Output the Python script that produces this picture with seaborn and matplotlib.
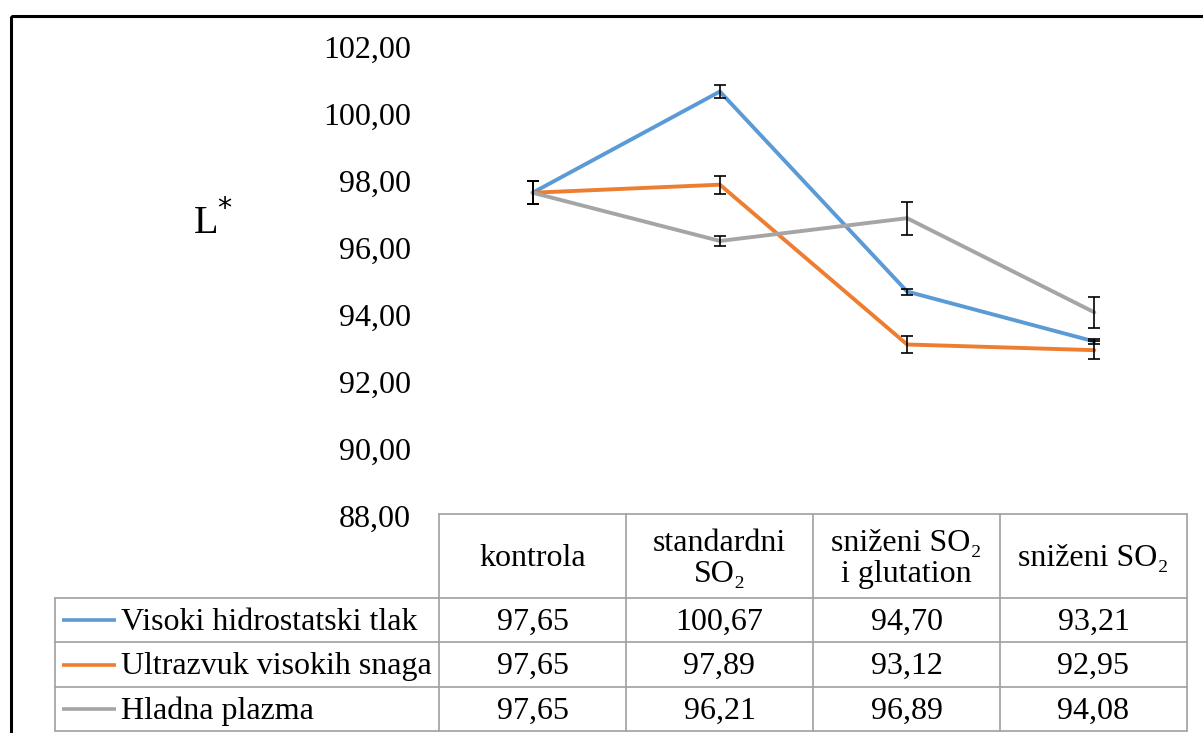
import matplotlib
matplotlib.use("Agg")
import matplotlib.pyplot as plt
from matplotlib.patches import Rectangle
import numpy as np
import pandas as pd
import seaborn as sns

# Treatments (x categories) and series
categories = ["kontrola", "standardni\nSO₂", "sniženi SO₂\ni glutation", "sniženi SO₂"]
series = ["Visoki hidrostatski tlak", "Ultrazvuk visokih snaga", "Hladna plazma"]
colors = ["#5B9BD5", "#ED7D31", "#A5A5A5"]

# L* means and standard deviations per series
vht_mean = [97.65, 100.67, 94.70, 93.21]
uvs_mean = [97.65, 97.89, 93.12, 92.95]
hp_mean = [97.65, 96.21, 96.89, 94.08]
vht_sd = [0.35, 0.20, 0.09, 0.08]
uvs_sd = [0.35, 0.27, 0.26, 0.26]
hp_sd = [0.35, 0.15, 0.49, 0.47]

y_ticks = [88, 90, 92, 94, 96, 98, 100, 102]

means = [vht_mean, uvs_mean, hp_mean]
sds = [vht_sd, uvs_sd, hp_sd]

df = pd.DataFrame({
    "x": np.tile(np.arange(len(categories)), len(series)),
    "L": np.concatenate(means),
    "serija": np.repeat(series, len(categories)),
})

sns.set_theme(style="white")
plt.rcParams["font.family"] = ["Liberation Serif", "DejaVu Serif"]
plt.rcParams["text.color"] = "black"
plt.rcParams["ytick.color"] = "black"
plt.rcParams["ytick.labelcolor"] = "black"

FS = 23
W, H = 1203, 733
fig = plt.figure(figsize=(W / 100, H / 100), dpi=100)

# full-figure pixel overlay for the frame and the data table
ov = fig.add_axes([0, 0, 1, 1], zorder=0)
ov.set_xlim(0, W)
ov.set_ylim(H, 0)
ov.axis("off")

# main plot area
ax = fig.add_axes([439 / W, 1 - 516 / H, 749 / W, (516 - 47) / H], zorder=2)
ax.patch.set_alpha(0)

sns.lineplot(data=df, x="x", y="L", hue="serija", palette=colors,
             hue_order=series, linewidth=2.8, legend=False, ax=ax,
             errorbar=None, sort=False)
for m, s in zip(means, sds):
    ax.errorbar(np.arange(len(categories)), m, yerr=s, fmt="none",
                ecolor="black", elinewidth=1.2, capsize=4.5, capthick=1.2,
                zorder=5)

ax.set_xlim(-0.5, len(categories) - 0.5)
ax.set_ylim(88, 102)
ax.set_yticks(y_ticks)
ax.set_yticklabels([f"{v:.2f}".replace(".", ",") for v in y_ticks], fontsize=FS,
                   color="black")
ax.set_xticks([])
ax.tick_params(axis="y", length=0, pad=20)
ax.set_xlabel("")
ax.set_ylabel("")
for sp in ax.spines.values():
    sp.set_visible(False)

fig.text(193 / W, 1 - 222 / H, "L$^{*}$", fontsize=29, ha="left", va="center",
         family=["Liberation Serif"], color="black")

# outer chart frame
ov.add_patch(Rectangle((10.5, 16), W, H, fill=False, edgecolor="black",
                       linewidth=2.2))

# data table
grid = "#A0A0A0"
col_x = [439, 626, 813, 1000, 1187]
leg_x = 55
row_y = [514, 598, 642, 687, 731]
lw = 1.2
ov.plot([col_x[0], col_x[-1]], [row_y[0]] * 2, color=grid, lw=lw)
for yv in row_y[1:]:
    ov.plot([leg_x, col_x[-1]], [yv] * 2, color=grid, lw=lw)
for xv in col_x:
    ov.plot([xv, xv], [row_y[0], row_y[-1]], color=grid, lw=lw)
ov.plot([leg_x, leg_x], [row_y[1], row_y[-1]], color=grid, lw=lw)

for j, cat in enumerate(categories):
    cx = (col_x[j] + col_x[j + 1]) / 2
    ov.text(cx, (row_y[0] + row_y[1]) / 2 + 3, cat, fontsize=FS, ha="center",
            va="center", linespacing=1.1, color="black")

for i, (name, m, c) in enumerate(zip(series, means, colors)):
    cy = (row_y[i + 1] + row_y[i + 2]) / 2
    ov.plot([62, 116], [cy, cy], color=c, lw=2.6, solid_capstyle="butt")
    ov.text(121, cy + 2, name, fontsize=FS, ha="left", va="center",
            color="black")
    for j, v in enumerate(m):
        cx = (col_x[j] + col_x[j + 1]) / 2
        ov.text(cx, cy + 2, f"{v:.2f}".replace(".", ","), fontsize=FS,
                ha="center", va="center", color="black")

fig.savefig("out.png", dpi=100)
